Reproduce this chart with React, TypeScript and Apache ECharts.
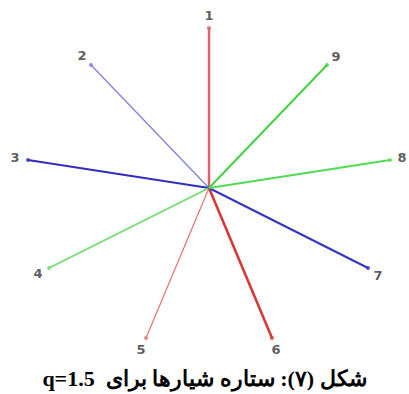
import React, { useEffect, useRef } from "react";
import * as echarts from "echarts";

// Ray labels (groove numbers)
const rayLabels = ["1", "2", "3", "4", "5", "6", "7", "8", "9"];
// Endpoint x (relative to star centre, px-units)
const rayX = [0, -118, -181, -160, -63, 63, 159, 181, 118];
// Endpoint y (relative to star centre, upwards positive)
const rayY = [160, 123, 28, -80, -150, -150, -80, 28, 123];

const captionText = "\u202Bشکل (۷): ستاره شیارها برای  q=1.5\u202C";

// styles
const rayColors = ["#e0606a", "#7c7ce4", "#2e2ebe", "#6ee06e", "#e47070", "#d83838", "#3434c0", "#52dc52", "#44d044"];
const rayWidths = [2.5, 1.2, 2, 1.6, 1.2, 2.6, 2, 2, 2];
const labelOffsets = [
  [0, -13],
  [-9, -10],
  [-13, -3],
  [-11, 5],
  [-5, 11],
  [4, 11],
  [10, 7],
  [12, -3],
  [9, -9],
];

export default function App() {
  const ref = useRef<HTMLDivElement>(null);
  useEffect(() => {
    if (!ref.current) return;
    const chart = echarts.init(ref.current, undefined, { renderer: "svg" });
    const lineSeries = rayLabels.map((name, i) => ({
      type: "line",
      name,
      data: [
        [0, 0],
        [rayX[i], rayY[i]],
      ],
      symbol: "none",
      lineStyle: { color: rayColors[i], width: rayWidths[i] },
      silent: true,
      z: 2,
    }));
    const endpoints = {
      type: "scatter",
      symbol: "circle",
      symbolSize: 4,
      z: 3,
      data: rayLabels.map((name, i) => ({
        value: [rayX[i], rayY[i]],
        name,
        itemStyle: { color: rayColors[i] },
        label: {
          show: true,
          position: "inside",
          offset: labelOffsets[i],
          formatter: name,
          color: "#333333",
          fontFamily: "DejaVu Sans",
          fontWeight: "bold",
          fontSize: 13,
          align: "center",
          verticalAlign: "middle",
        },
      })),
    };
    chart.setOption({
      animation: false,
      backgroundColor: "#ffffff",
      title: {
        text: captionText,
        left: "center",
        top: 362,
        textStyle: {
          fontFamily: "'Times New Roman', 'Liberation Serif', serif",
          fontWeight: "bold",
          fontSize: 22,
          color: "#000000",
        },
      },
      grid: { left: 0, top: 0, right: 0, bottom: 0 },
      xAxis: { type: "value", min: -209, max: 200, show: false },
      yAxis: { type: "value", min: -206, max: 188, show: false },
      series: [...lineSeries, endpoints],
    });
    return () => chart.dispose();
  }, []);
  return (
    <div
      ref={ref}
      style={{ position: "fixed", left: 0, top: 0, width: 409, height: 394 }}
    />
  );
}
